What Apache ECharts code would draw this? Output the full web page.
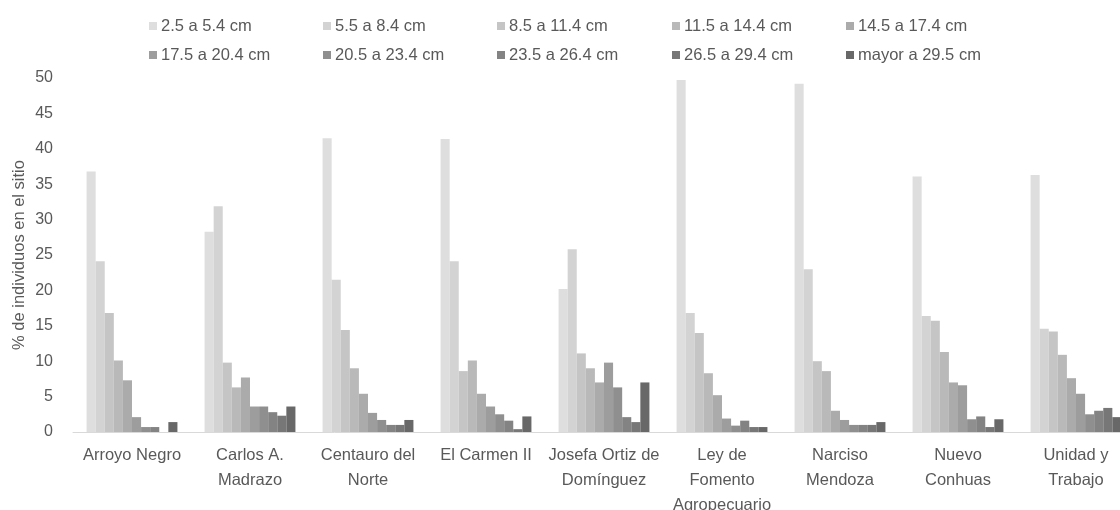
<!DOCTYPE html>
<html>
<head>
<meta charset="utf-8">
<title>Distribución de tallas por sitio</title>
<script src="https://cdn.jsdelivr.net/npm/echarts@6/dist/echarts.min.js"></script>
<style>
  html, body { margin: 0; padding: 0; background: #ffffff; }
  #chart { width: 1120px; height: 510px; }
</style>
</head>
<body>
<div id="chart"></div>
<script>
// Sites (x-axis tick labels, line breaks as printed under each group)
const sites = [
  'Arroyo Negro',
  'Carlos A.\nMadrazo',
  'Centauro del\nNorte',
  'El Carmen II',
  'Josefa Ortiz de\nDomínguez',
  'Ley de\nFomento\nAgropecuario',
  'Narciso\nMendoza',
  'Nuevo\nConhuas',
  'Unidad y\nTrabajo'
];

// Size classes (one series each)
const sizeClasses = [
  '2.5 a 5.4 cm', '5.5 a 8.4 cm', '8.5 a 11.4 cm', '11.5 a 14.4 cm', '14.5 a 17.4 cm',
  '17.5 a 20.4 cm', '20.5 a 23.4 cm', '23.5 a 26.4 cm', '26.5 a 29.4 cm', 'mayor a 29.5 cm'
];

// % of individuals per site, one array per size class (sites in the order above)
const c2_5  = [36.8, 28.3, 41.5, 41.4, 20.2, 49.7, 49.2, 36.1, 36.3];
const c5_5  = [24.1, 31.9, 21.5, 24.1, 25.8, 16.8, 23.0, 16.4, 14.6];
const c8_5  = [16.8,  9.8, 14.4,  8.6, 11.1, 14.0, 10.0, 15.7, 14.2];
const c11_5 = [10.1,  6.3,  9.0, 10.1,  9.0,  8.3,  8.6, 11.3, 10.9];
const c14_5 = [ 7.3,  7.7,  5.4,  5.4,  7.0,  5.2,  3.0,  7.0,  7.6];
const c17_5 = [ 2.1,  3.6,  2.7,  3.6,  9.8,  1.9,  1.7,  6.6,  5.4];
const c20_5 = [ 0.7,  3.6,  1.7,  2.5,  6.3,  0.9,  1.0,  1.8,  2.5];
const c23_5 = [ 0.7,  2.8,  1.0,  1.6,  2.1,  1.6,  1.0,  2.2,  3.0];
const c26_5 = [ 0.0,  2.3,  1.0,  0.4,  1.4,  0.7,  1.0,  0.7,  3.4];
const c29_5 = [ 1.4,  3.6,  1.7,  2.2,  7.0,  0.7,  1.4,  1.8,  2.1];
const classValues = [c2_5, c5_5, c8_5, c11_5, c14_5, c17_5, c20_5, c23_5, c26_5, c29_5];

// Y-axis scale
const yMin = 0, yMax = 50, yStep = 5;

const greys = ['#dedede', '#d3d3d3', '#c5c5c5', '#b9b9b9', '#ababab',
               '#9d9d9d', '#8f8f8f', '#838383', '#777777', '#686868'];

const FONT = '"Liberation Sans", Arial, sans-serif';
const TEXT = '#595959';

// Legend laid out as a 5 x 2 table of entries
const legendCols = [149, 323, 497, 672, 846];
const legendRows = [17, 46];
const legends = sizeClasses.map((name, i) => ({
  data: [name],
  left: legendCols[i % 5],
  top: legendRows[Math.floor(i / 5)],
  padding: 0,
  itemWidth: 8,
  itemHeight: 8,
  itemGap: 0,
  icon: 'rect',
  textStyle: { fontFamily: FONT, fontSize: 16.5, lineHeight: 18, color: TEXT, padding: [0, 0, 0, -1] },
  selectedMode: false
}));

const chart = echarts.init(document.getElementById('chart'), null, { renderer: 'canvas' });

chart.setOption({
  backgroundColor: '#ffffff',
  animation: false,
  color: greys,
  legend: legends,
  grid: {
    left: 73, top: 78, width: 1062, bottom: 78,
    containLabel: false,
    outerBoundsMode: 'none'
  },
  xAxis: {
    type: 'category',
    data: sites,
    axisLine: { show: true, lineStyle: { color: '#d9d9d9', width: 1 } },
    axisTick: { show: false },
    axisLabel: {
      interval: 0,
      margin: 11,
      fontFamily: FONT,
      fontSize: 16.5,
      color: TEXT,
      lineHeight: 25,
      align: 'center'
    },
    splitLine: { show: false }
  },
  yAxis: {
    type: 'value',
    min: yMin,
    max: yMax,
    interval: yStep,
    name: '% de individuos en el sitio',
    nameLocation: 'middle',
    nameGap: 45,
    nameMoveOverlap: false,
    nameRotate: 90,
    nameTextStyle: { fontFamily: FONT, fontSize: 16.5, color: TEXT },
    axisLine: { show: false },
    axisTick: { show: false },
    splitLine: { show: false },
    axisLabel: { fontFamily: FONT, fontSize: 16, color: TEXT, margin: 20 }
  },
  series: sizeClasses.map((name, i) => ({
    name: name,
    type: 'bar',
    data: classValues[i],
    barGap: '0%',
    barCategoryGap: '23%',
    itemStyle: { color: greys[i] },
    emphasis: { disabled: true }
  }))
});
</script>
</body>
</html>
